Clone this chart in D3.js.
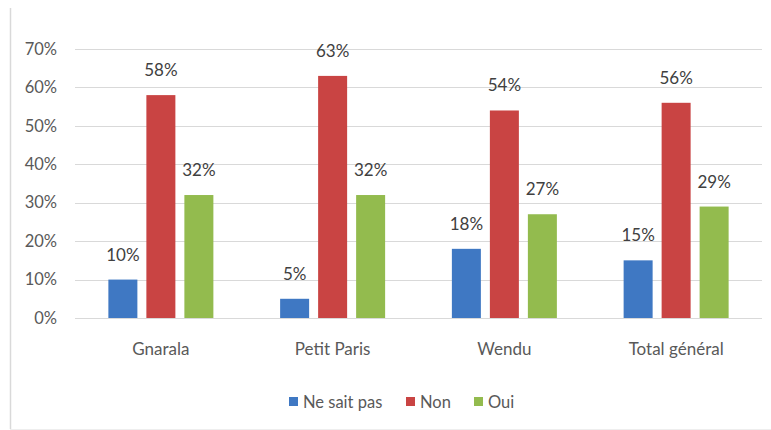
<!DOCTYPE html>
<html>
<head>
<meta charset="utf-8">
<script src="https://cdn.jsdelivr.net/npm/d3@7"></script>
<style>
  html, body { margin: 0; padding: 0; background: #fff; }
  svg { display: block; }
  text { font-family: Lato, "Open Sans", sans-serif; }
</style>
</head>
<body>
<svg id="chart" width="771" height="430"></svg>
<script>
// Réponses par localité (en %)
const categories = ["Gnarala", "Petit Paris", "Wendu", "Total général"];
const seriesNames = ["Ne sait pas", "Non", "Oui"];
const neSaitPas = [10, 5, 18, 15];
const non = [58, 63, 54, 56];
const oui = [32, 32, 27, 29];
const yTicks = [0, 10, 20, 30, 40, 50, 60, 70];

const seriesValues = [neSaitPas, non, oui];
const colors = ["#3f78c3", "#c94443", "#93bb4e"];
const FONT = "Lato, 'Open Sans', sans-serif";

const svg = d3.select("#chart");
const W = 771, H = 430;
const margin = { left: 75, right: 9, top: 49, bottom: 112 };

// Cadre du graphique
svg.append("line").attr("x1", 10.5).attr("x2", 10.5).attr("y1", 8).attr("y2", 429)
  .attr("stroke", "#d9d9d9").attr("stroke-width", 1.5);
svg.append("line").attr("x1", 10).attr("x2", W).attr("y1", 429.5).attr("y2", 429.5)
  .attr("stroke", "#eeeeee").attr("stroke-width", 1);

const x = d3.scaleBand().domain(categories)
  .range([margin.left, W - margin.right]).paddingInner(0).paddingOuter(0);
const y = d3.scaleLinear().domain([0, 70]).range([H - margin.bottom, margin.top]);

// Trois barres de 29 px espacées de 9 px, centrées dans chaque catégorie
const barW = 29, gap = 9, step = barW + gap;
const xs = d3.scaleBand().domain(seriesNames)
  .range([-step * 1.5, step * 1.5])
  .paddingInner(gap / step).paddingOuter(gap / step / 2);

// Quadrillage horizontal
svg.append("g").selectAll("line").data(yTicks).join("line")
  .attr("x1", margin.left).attr("x2", W - margin.right)
  .attr("y1", d => Math.round(y(d)) + 0.5).attr("y2", d => Math.round(y(d)) + 0.5)
  .attr("stroke", "#d9d9d9").attr("stroke-width", 1.2);

// Axe des ordonnées
const yAxis = svg.append("g").attr("transform", `translate(60,0)`)
  .call(d3.axisLeft(y).tickValues(yTicks).tickFormat(d => d + "%").tickSize(0));
yAxis.select(".domain").remove();
yAxis.selectAll("text").attr("fill", "#595959").attr("font-size", 16.5)
  .attr("font-family", FONT);

// Axe des abscisses
const xAxis = svg.append("g").attr("transform", `translate(0,${H - margin.bottom})`)
  .call(d3.axisBottom(x).tickSize(0).tickPadding(25));
xAxis.select(".domain").remove();
xAxis.selectAll("text").attr("fill", "#595959").attr("font-size", 17)
  .attr("font-family", FONT);

// Barres et étiquettes de valeur
const groups = svg.append("g").selectAll("g").data(categories).join("g")
  .attr("transform", c => `translate(${x(c) + x.bandwidth() / 2},0)`);

seriesNames.forEach((s, si) => {
  groups.append("rect")
    .attr("x", xs(s))
    .attr("width", xs.bandwidth())
    .attr("y", (c, ci) => y(seriesValues[si][ci]))
    .attr("height", (c, ci) => y(0) - y(seriesValues[si][ci]))
    .attr("fill", colors[si]);
  groups.append("text")
    .attr("x", xs(s) + xs.bandwidth() / 2)
    .attr("y", (c, ci) => y(seriesValues[si][ci]) - 19)
    .attr("text-anchor", "middle")
    .attr("font-size", 17)
    .attr("fill", "#404040")
    .text((c, ci) => seriesValues[si][ci] + "%");
});

// Légende
const legend = svg.append("g").attr("transform", "translate(0,402)");
const legendItems = [
  { name: seriesNames[0], x: 289 },
  { name: seriesNames[1], x: 406 },
  { name: seriesNames[2], x: 474 }
];
legendItems.forEach((it, i) => {
  legend.append("rect").attr("x", it.x).attr("y", -5).attr("width", 9).attr("height", 9)
    .attr("fill", colors[i]);
  legend.append("text").attr("x", it.x + 14).attr("y", 6)
    .attr("font-size", 16.5).attr("fill", "#595959").attr("font-family", FONT).text(it.name);
});
</script>
</body>
</html>
